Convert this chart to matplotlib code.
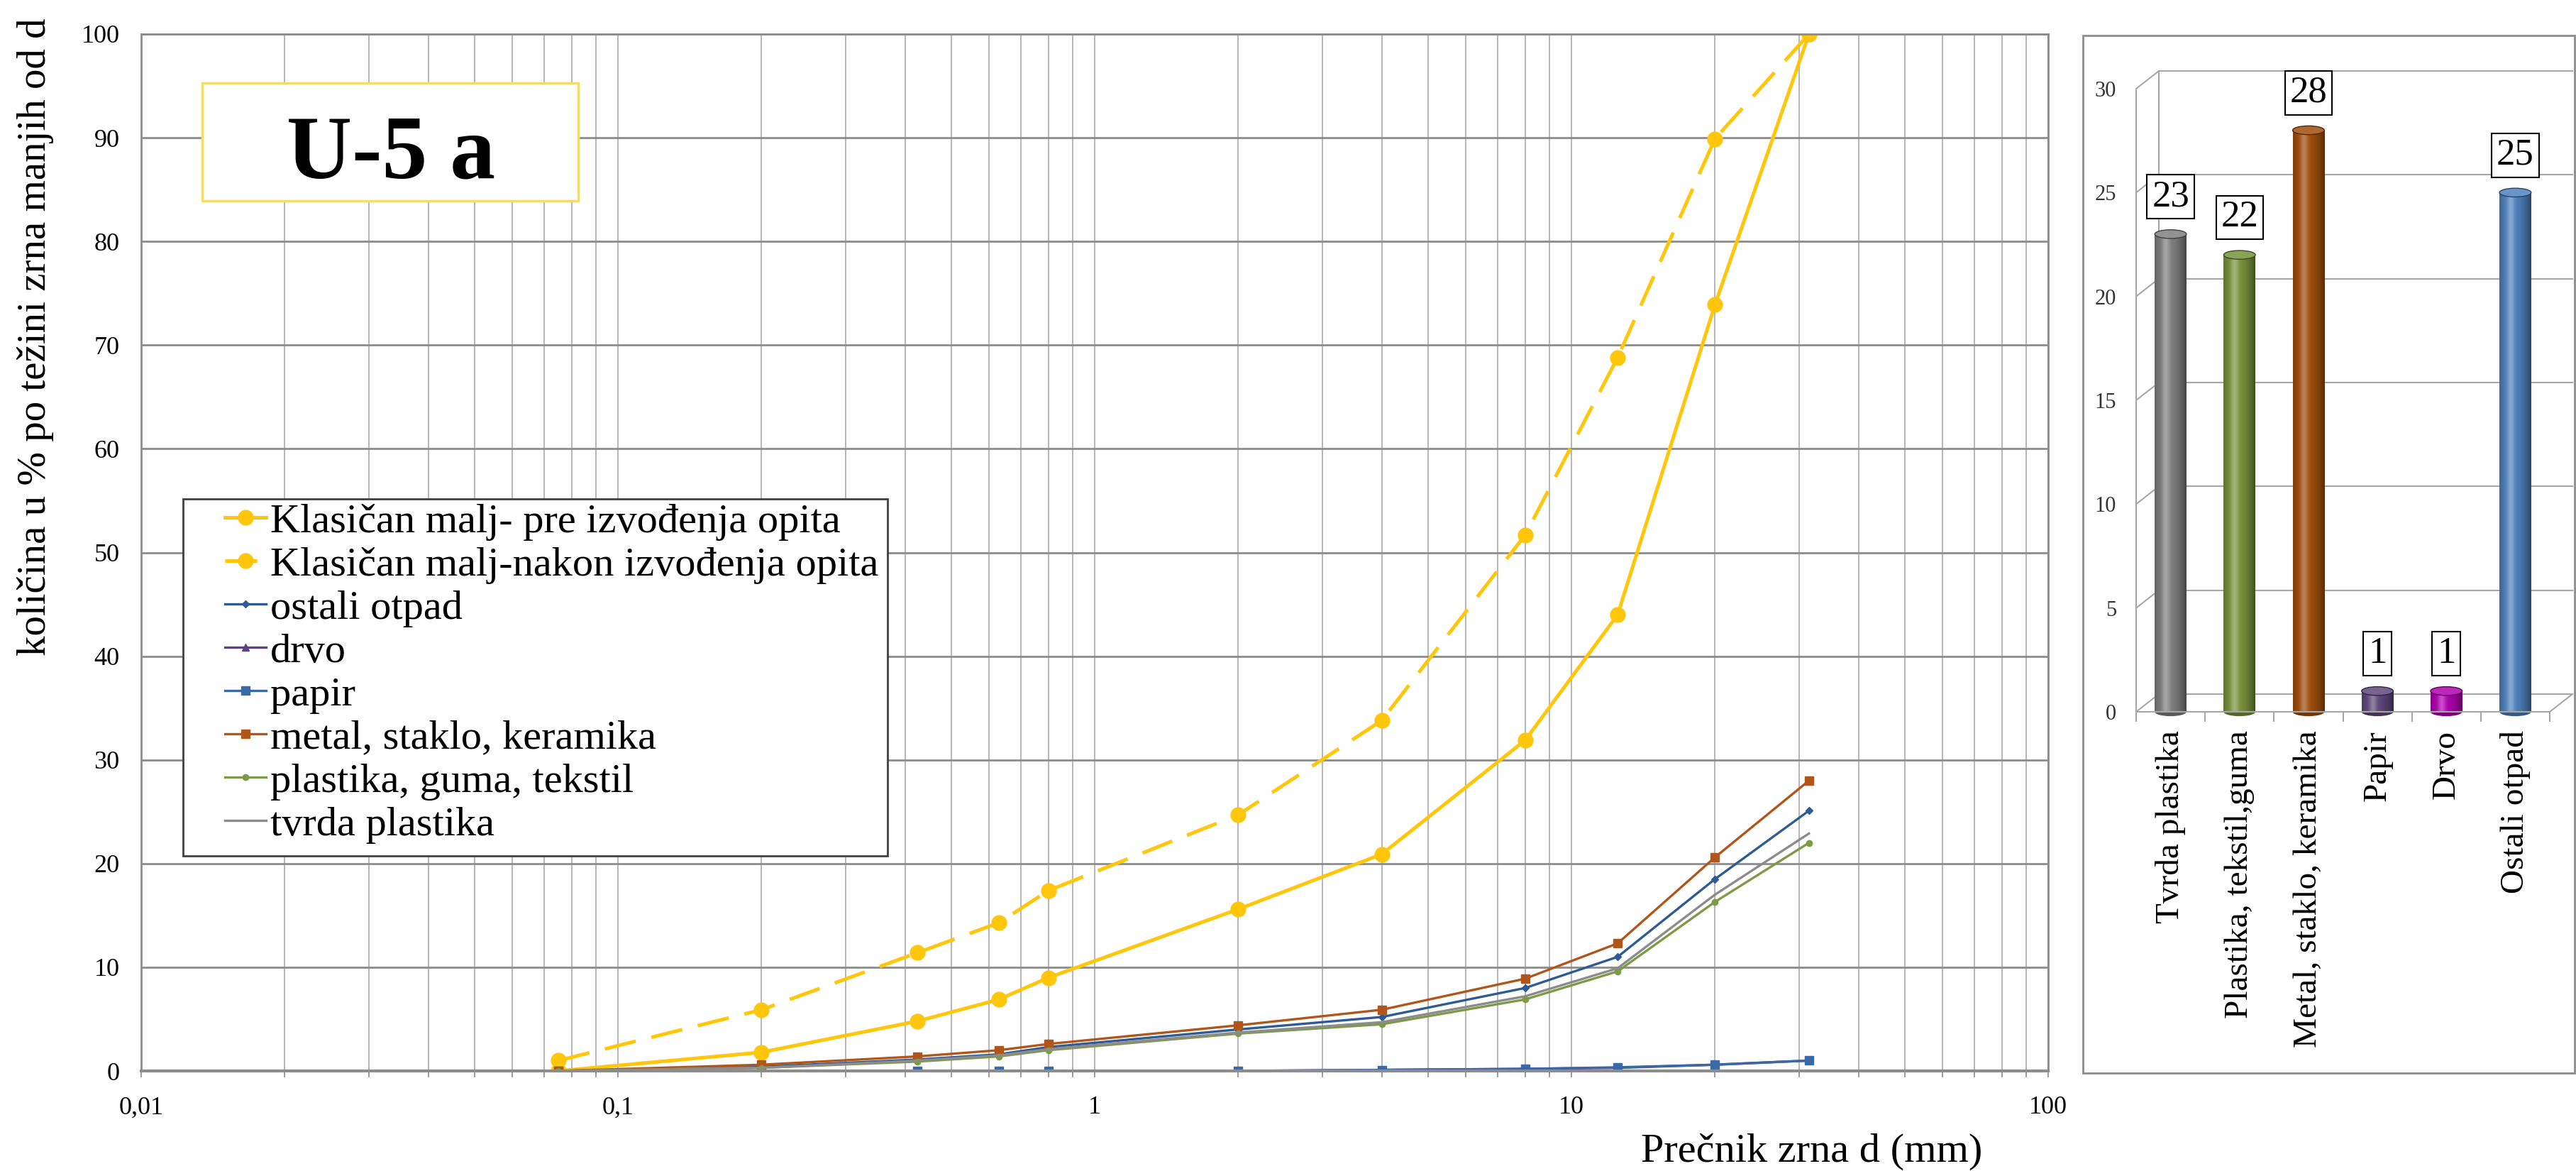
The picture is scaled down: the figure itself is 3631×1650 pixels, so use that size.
import numpy as np
import matplotlib
matplotlib.use("Agg")
import matplotlib.pyplot as plt
import matplotlib.colors as mcolors
from matplotlib.patches import Rectangle, Ellipse, ConnectionPatch
from matplotlib.transforms import offset_copy
from matplotlib.ticker import NullFormatter

plt.rcParams['font.family'] = ['Liberation Serif', 'DejaVu Serif']

# sieve sizes (mm) and passing percentages
sieve = [0.075, 0.2, 0.425, 0.63, 0.8, 2, 4, 8, 12.5, 20, 31.5]
pre = [0, 1.8, 4.8, 6.9, 9.0, 15.6, 20.9, 31.9, 44.0, 73.9, 100]
nakon = [1.0, 5.9, 11.4, 14.3, 17.4, 24.7, 33.8, 51.7, 68.8, 89.9, 100]
ostali = [0, 0.4, 1.1, 1.6, 2.3, 4.0, 5.2, 8.0, 11.0, 18.5, 25.1]
drvo = [0, 0, 0, 0, 0, 0, 0.1, 0.2, 0.3, 0.6, 1.0]
papir = [0, 0, 0, 0, 0, 0, 0.1, 0.2, 0.35, 0.6, 1.0]
metal = [0, 0.6, 1.4, 2.0, 2.6, 4.4, 5.9, 8.9, 12.3, 20.6, 28.0]
plastika = [0, 0.3, 0.9, 1.4, 2.0, 3.6, 4.5, 6.9, 9.6, 16.3, 22.0]
tvrda = [0, 0.3, 1.0, 1.5, 2.1, 3.7, 4.7, 7.2, 9.9, 17.0, 22.9]

xticks = [0.01, 0.1, 1, 10, 100]
xtick_labels = ['0,01', '0,1', '1', '10', '100']
yticks = list(range(0, 101, 10))

# composition bar chart
bar_cats = ['Tvrda plastika', 'Plastika, tekstil,guma', 'Metal, staklo, keramika',
            'Papir', 'Drvo', 'Ostali otpad']
bar_vals = [23, 22, 28, 1, 1, 25]
bar_colors = ['#7f7f7f', '#77933c', '#a04e0c', '#5f497a', '#b000b0', '#4f81bd']
bar_yticks = list(range(0, 31, 5))

W, H = 3631, 1650


def fx(px):
    return px / W


def fy(py):
    return 1 - py / H


fig = plt.figure(figsize=(W / 100, H / 100), dpi=100)

# ---- grain size curves ----
ax = fig.add_axes([fx(199), fy(1509), fx(2887) - fx(199), fy(48) - fy(1509)])
ax.set_xscale('log')

yellow = '#ffc60b'
lines = []
l, = ax.plot(sieve, pre, color=yellow, lw=3.6, marker='o', ms=15,
             label='Klasičan malj- pre izvođenja opita')
lines.append(l)
l, = ax.plot(sieve, nakon, color=yellow, lw=3.6, marker='o', ms=15, dashes=(9, 4.5),
             label='Klasičan malj-nakon izvođenja opita')
lines.append(l)

series = [
    (ostali, '#2e5b94', 'D', 5, 'ostali otpad'),
    (drvo, '#5f3f86', '^', 7, 'drvo'),
    (papir, '#3a69a6', 's', 8, 'papir'),
    (metal, '#b0561b', 's', 8, 'metal, staklo, keramika'),
    (plastika, '#7d9a45', 'o', 6, 'plastika, guma, tekstil'),
    (tvrda, '#8c8c8c', None, 0, 'tvrda plastika'),
]
for vals, col, mk, ms, lab in series:
    l, = ax.plot(sieve, vals, color=col, lw=2.4, marker=mk, ms=ms, label=lab)
    lines.append(l)

ax.set_xlim(0.01, 100)
ax.set_ylim(0, 100)
ax.set_xticks(xticks, xtick_labels)
ax.xaxis.set_minor_formatter(NullFormatter())
ax.set_yticks(yticks)
ax.set_axisbelow(True)
ax.grid(True, which='major', axis='y', color='#8c8c8c', lw=2)
ax.grid(True, which='both', axis='x', color='#b8b8b8', lw=1.5)
ax.tick_params(axis='x', which='both', direction='out', length=6.5, width=1.2,
               color='#8c8c8c', labelsize=26, pad=19)
ax.tick_params(axis='y', length=0, labelsize=26, pad=22)
for sp in ax.spines.values():
    sp.set_color('#8c8c8c')
    sp.set_linewidth(2)
ax.spines['bottom'].set_linewidth(3)

fig.text(fx(50), fy(475), 'količina u % po težini zrna manjih od d', rotation=90,
         ha='center', va='center', fontsize=41)
fig.text(fx(2554), fy(1623), 'Prečnik zrna d (mm)', ha='center', va='center', fontsize=42)

# title box
fig.add_artist(Rectangle((fx(285), fy(283)), fx(815) - fx(285), fy(117) - fy(283),
                         transform=fig.transFigure, fc='white', ec='#f3dc6b', lw=2.5, zorder=1))
fig.text(fx(551), fy(250), 'U-5 a', ha='center', va='baseline', fontsize=92,
         fontweight='bold', zorder=2)

# legend with its own frame
fig.add_artist(Rectangle((fx(258), fy(1206)), fx(1251) - fx(258), fy(703) - fy(1206),
                         transform=fig.transFigure, fc='white', ec='#404040', lw=2, zorder=1))
fig.legend(handles=lines, loc='upper left', bbox_to_anchor=(fx(311), fy(703)),
           bbox_transform=fig.transFigure, frameon=False, fontsize=42,
           labelspacing=0.14, handlelength=1.0, handletextpad=0.1,
           borderpad=0.1, borderaxespad=0)

# ---- composition bars ----
bx = fig.add_axes([fx(3011), fy(1003), fx(3594) - fx(3011), fy(125) - fy(1003)])
xpos = np.arange(len(bar_cats))
bw = 0.46
bars = bx.bar(xpos, bar_vals, width=bw, color=bar_colors, zorder=1.9)

t = np.linspace(0, 1, 64)
dark = 0.55 + 0.45 * (1 - ((t - 0.4) / 0.6) ** 2)
hl = 0.3 * np.exp(-((t - 0.35) / 0.12) ** 2)
ell_h = 0.42
for rect, v, c in zip(bars, bar_vals, bar_colors):
    base = np.array(mcolors.to_rgb(c))
    col = base[None, :] * dark[:, None]
    col = col + (1 - col) * hl[:, None]
    x0 = rect.get_x()
    w = rect.get_width()
    im = bx.imshow(col[None, :, :], extent=[x0, x0 + w, 0, v], aspect='auto',
                   interpolation='bilinear', zorder=2)
    im.set_clip_path(rect)
    bx.add_patch(Ellipse((x0 + w / 2, 0), w, ell_h, fc=base * 0.7, ec='none',
                         zorder=1.8, clip_on=False))
    top = base + (1 - base) * 0.15
    bx.add_patch(Ellipse((x0 + w / 2, v), w, ell_h, fc=top, ec=base * 0.5, lw=1,
                         zorder=3))
    bx.text(x0 + w / 2, v + 1.8, str(v), ha='center', va='center', fontsize=38, zorder=5,
            bbox=dict(boxstyle='square,pad=0.13', fc='white', ec='black', lw=1.5))

bx.set_xlim(-0.5, len(bar_cats) - 0.5)
bx.set_ylim(0, 30)

# 3D-looking back wall
back = offset_copy(bx.transData, fig=fig, x=32, y=25, units='dots')
wall = '#a6a6a6'
for v in bar_yticks:
    bx.plot([-0.5, len(bar_cats) - 0.5], [v, v], transform=back, color=wall, lw=1.5,
            zorder=0.5, clip_on=False)
    bx.add_artist(ConnectionPatch((-0.5, v), (-0.5, v), coordsA=bx.transData,
                                  coordsB=back, color=wall, lw=1.5, zorder=0.5))
bx.plot([-0.5, -0.5], [0, 30], transform=back, color=wall, lw=1.5, zorder=0.5, clip_on=False)
bx.add_artist(ConnectionPatch((len(bar_cats) - 0.5, 0), (len(bar_cats) - 0.5, 0),
                              coordsA=bx.transData, coordsB=back, color=wall, lw=1.5))

bx.set_yticks(bar_yticks)
bx.set_xticks(xpos, bar_cats, rotation=90)
bx.set_xticks(np.arange(-0.5, len(bar_cats)), minor=True)
bx.tick_params(axis='x', which='major', length=0, labelsize=34, pad=19)
bx.tick_params(axis='x', which='minor', length=10, width=1.5, color=wall)
bx.tick_params(axis='y', length=0, labelsize=22, labelcolor='#333333', pad=20)
for side in ['top', 'right']:
    bx.spines[side].set_visible(False)
for side in ['left', 'bottom']:
    bx.spines[side].set_color(wall)
    bx.spines[side].set_linewidth(1.5)
bx.patch.set_alpha(0)

fig.add_artist(Rectangle((fx(2936), fy(1512)), fx(3629) - fx(2936), fy(50) - fy(1512),
                         transform=fig.transFigure, fill=False, ec='#8c8c8c', lw=2))

fig.savefig('out.png', dpi=100)
